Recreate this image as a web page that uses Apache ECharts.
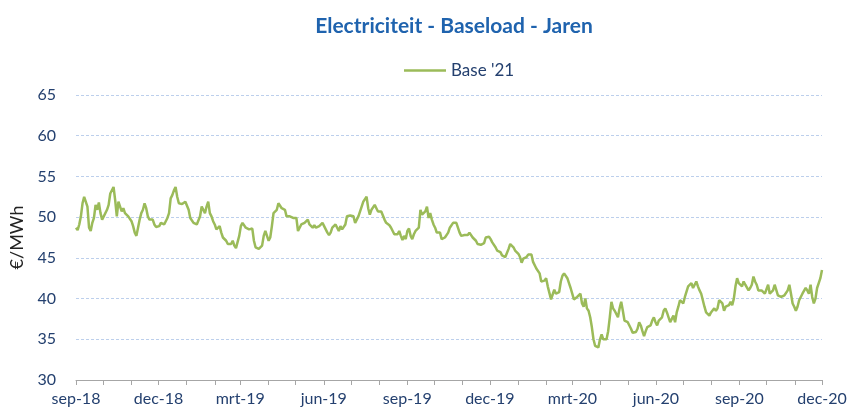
<!DOCTYPE html>
<html>
<head>
<meta charset="utf-8">
<script src="https://cdn.jsdelivr.net/npm/echarts@6/dist/echarts.min.js"></script>
<style>
html,body{margin:0;padding:0;background:#fff;}
#chart{width:851px;height:412px;}
</style>
</head>
<body>
<div id="chart"></div>
<script>
// Chart texts
var titleText = "Electriciteit - Baseload - Jaren";
var seriesName = "Base '21";
var yAxisName = "€/MWh";
var monthNames = ["jan","feb","mrt","apr","mei","jun","jul","aug","sep","okt","nov","dec"];
// Y axis
var yMin = 30, yMax = 65, yStep = 5;
// period shown (first and last date of the series)
var startDate = [2018, 8, 1];   // 1 sep 2018
var endDate = [2020, 11, 1];    // 1 dec 2020

// Daily-ish price readings (€/MWh), in consecutive chunks
var seg1 = [48.7,48.4,49.1,50.1,51.7,52.5,52.5,51.3,48.7,48.3,49.3,49.9,51.5,50.9,51.8,50.5,49.7,50.1,50.3,50.9,51.5,52.9,53.1,53.7,52.1,50.1,51.9,51.3,50.7,51.1,50.5,50.7,50.1,49.9,49.5,48.9,48.1,47.7,48.7,49.7,50.5,50.9,51.7,51.1,50.1,49.7,49.5,49.7,49.1,48.8,48.6,48.9,49.3,49.5,49.1,49.5,49.9,50.5,52.3];
var seg2 = [52.7,53.3,53.7,52.5,51.7,51.5,51.6,51.7,51.9,52.0,50.9,49.9,49.7,49.3,49.5,49.1,48.9,50.1,51.3,51.1,50.5,51.3,51.9,50.5,50.1,49.5,49.1,48.5,48.3,48.9,48.1,47.5,47.3,47.1,46.7,46.9,46.7,47.1,46.5,46.2,46.1,47.7,48.9,49.3,49.1,48.7,48.9,48.5,48.7,48.6,47.1,46.3,46.1,46.1,46.2,46.5,47.7,48.3];
var seg3 = [47.7,47.1,47.5,48.9,50.5,50.7,50.9,51.7,51.5,51.1,51.1,50.9,50.1,50.2,50.1,50.0,49.9,49.8,49.9,48.3,48.5,49.1,48.9,49.3,49.1,49.7,49.1,48.9,48.7,49.0,48.7,48.5,48.9,49.1,49.3,49.1,48.5,48.1,47.8,48.1,48.7,48.9,49.1,48.7,48.3,48.9,48.5,48.3,49.1,50.1,50.3,50.2,50.3,50.1,49.3,49.7,50.1,50.3,51.3,51.9];
var seg4 = [51.9,52.5,51.1,50.3,50.9,51.1,51.5,51.1,50.7,50.8,50.7,50.5,49.7,49.3,49.1,49.0,48.7,48.3,47.9,47.7,47.9,48.3,47.7,47.2,47.7,47.3,48.3,48.6,47.7,47.3,47.9,48.3,48.5,48.7,50.9,50.3,50.1,50.7,51.3,49.9,50.5,49.7,49.1,48.7,48.1,47.9,48.1,47.3,47.5,47.5,47.7,48.1,48.7,48.9,49.3,49.1,49.3,49.1,48.1];
var seg5 = [47.7,47.7,47.8,48.0,47.8,48.1,47.9,47.5,47.3,47.1,46.7,46.6,46.6,46.5,46.8,47.5,47.7,47.6,47.3,46.9,46.7,46.3,45.9,45.9,45.7,45.3,45.2,45.1,45.1,46.1,46.7,46.5,46.3,45.9,45.7,45.5,45.1,44.4,44.9,44.8,45.1,45.4,45.5,45.4,44.5,44.3,43.7,43.5,43.1,42.1,42.2,42.2,42.5,41.5,40.7,39.9,40.5,41.1];
var seg6 = [40.6,40.4,40.8,42.1,42.8,43.1,43.0,42.5,41.9,41.3,40.6,39.9,39.8,40.2,40.4,40.6,39.4,39.0,40.0,38.8,38.5,37.7,36.5,35.0,34.2,34.4,34.0,35.0,35.6,35.0,35.2,35.0,36.0,37.7,39.6,38.8,38.5,38.3,37.7,38.8,39.6,38.5,37.3,37.5,37.1,36.7,36.3,35.8,35.8,35.9,36.3,37.1,36.7,36.0,35.4,36.0,36.5,36.7];
var seg7 = [36.7,37.3,37.7,37.1,36.7,37.3,37.5,37.7,38.5,38.8,38.3,37.7,37.1,37.5,37.9,37.1,38.3,39.0,39.8,39.6,39.4,40.2,40.4,41.5,41.7,41.9,41.3,41.7,42.1,41.5,41.0,40.6,39.8,39.0,38.3,38.5,37.9,38.3,38.5,38.8,38.5,38.8,39.8,39.9,39.4,38.5,39.0,38.8,39.2,39.6,39.2,40.0,41.5,42.5,41.9,42.1,41.5];
var seg8 = [42.1,41.7,41.5,41.0,41.3,41.7,42.7,42.1,41.7,41.0,40.8,41.0,40.8,40.6,40.8,41.7,40.6,40.4,41.0,41.7,41.5,40.4,40.2,40.2,40.0,40.4,40.6,41.0,41.7,40.6,39.4,39.0,38.5,39.0,39.8,40.2,40.6,40.8,41.3,41.0,40.6,41.7,40.2,39.4,40.0,41.3,41.9,42.5,43.5];

var DAY = 86400000;
var values = [].concat(seg1, seg2, seg3, seg4, seg5, seg6, seg7, seg8);
var t0 = Date.UTC(startDate[0], startDate[1], startDate[2]);
var t1 = Date.UTC(endDate[0], endDate[1], endDate[2]);
var spanDays = (t1 - t0) / DAY;
// x = days since start date
var data = values.map(function (v, i) {
  return [i * spanDays / (values.length - 1), v];
});

// monthly ticks, labels every 3 months
var tickVals = [], labelVals = [];
for (var m = 0; ; m++) {
  var t = Date.UTC(startDate[0], startDate[1] + m, 1);
  if (t > t1) break;
  tickVals.push((t - t0) / DAY);
  if (m % 3 === 0) labelVals.push((t - t0) / DAY);
}
function monthLabel(v) {
  var d = new Date(t0 + Math.round(v) * DAY);
  return monthNames[d.getUTCMonth()] + '-' + String(d.getUTCFullYear()).slice(2);
}

var navy = '#24406F';
var FONT = 'Lato, "Open Sans", sans-serif';
var chart = echarts.init(document.getElementById('chart'), null, {renderer: 'canvas'});
chart.setOption({
  animation: false,
  backgroundColor: '#ffffff',
  textStyle: {fontFamily: FONT},
  title: {
    text: titleText,
    left: 449, top: 11, textAlign: 'center',
    textStyle: {color: '#1F63AE', fontSize: 21, fontWeight: 'bold', fontFamily: FONT}
  },
  legend: {
    data: [seriesName],
    left: 399, top: 57,
    itemWidth: 42, itemHeight: 14, itemGap: 6,
    icon: 'path://M0,6 L42,6 L42,8.5 L0,8.5 Z',
    textStyle: {color: navy, fontSize: 17, fontFamily: FONT}
  },
  grid: {left: 76, right: 29, top: 95, bottom: 32, containLabel: false},
  xAxis: {
    type: 'value',
    min: 0, max: spanDays,
    axisLine: {show: true, lineStyle: {color: '#A6A6A6', width: 1}},
    axisTick: {show: true, inside: false, length: 5, customValues: tickVals, lineStyle: {color: '#A6A6A6'}},
    axisLabel: {show: true, customValues: labelVals, formatter: monthLabel, color: navy, fontSize: 16, margin: 11, fontFamily: FONT},
    splitLine: {show: false}
  },
  yAxis: {
    type: 'value',
    min: yMin, max: yMax, interval: yStep,
    name: yAxisName, nameLocation: 'middle', nameGap: 48, nameRotate: 90,
    nameTextStyle: {color: '#222', fontSize: 18, fontFamily: FONT},
    axisLine: {show: false},
    axisTick: {show: false},
    axisLabel: {color: navy, fontSize: 16, margin: 20, fontFamily: FONT},
    splitLine: {show: true, lineStyle: {color: '#BCCFEC', type: [3, 2], width: 1}}
  },
  series: [{
    name: seriesName,
    type: 'line',
    data: data,
    showSymbol: false,
    symbol: 'none',
    lineStyle: {color: '#9BBB59', width: 2.5},
    itemStyle: {color: '#9BBB59'}
  }]
});
</script>
</body>
</html>
